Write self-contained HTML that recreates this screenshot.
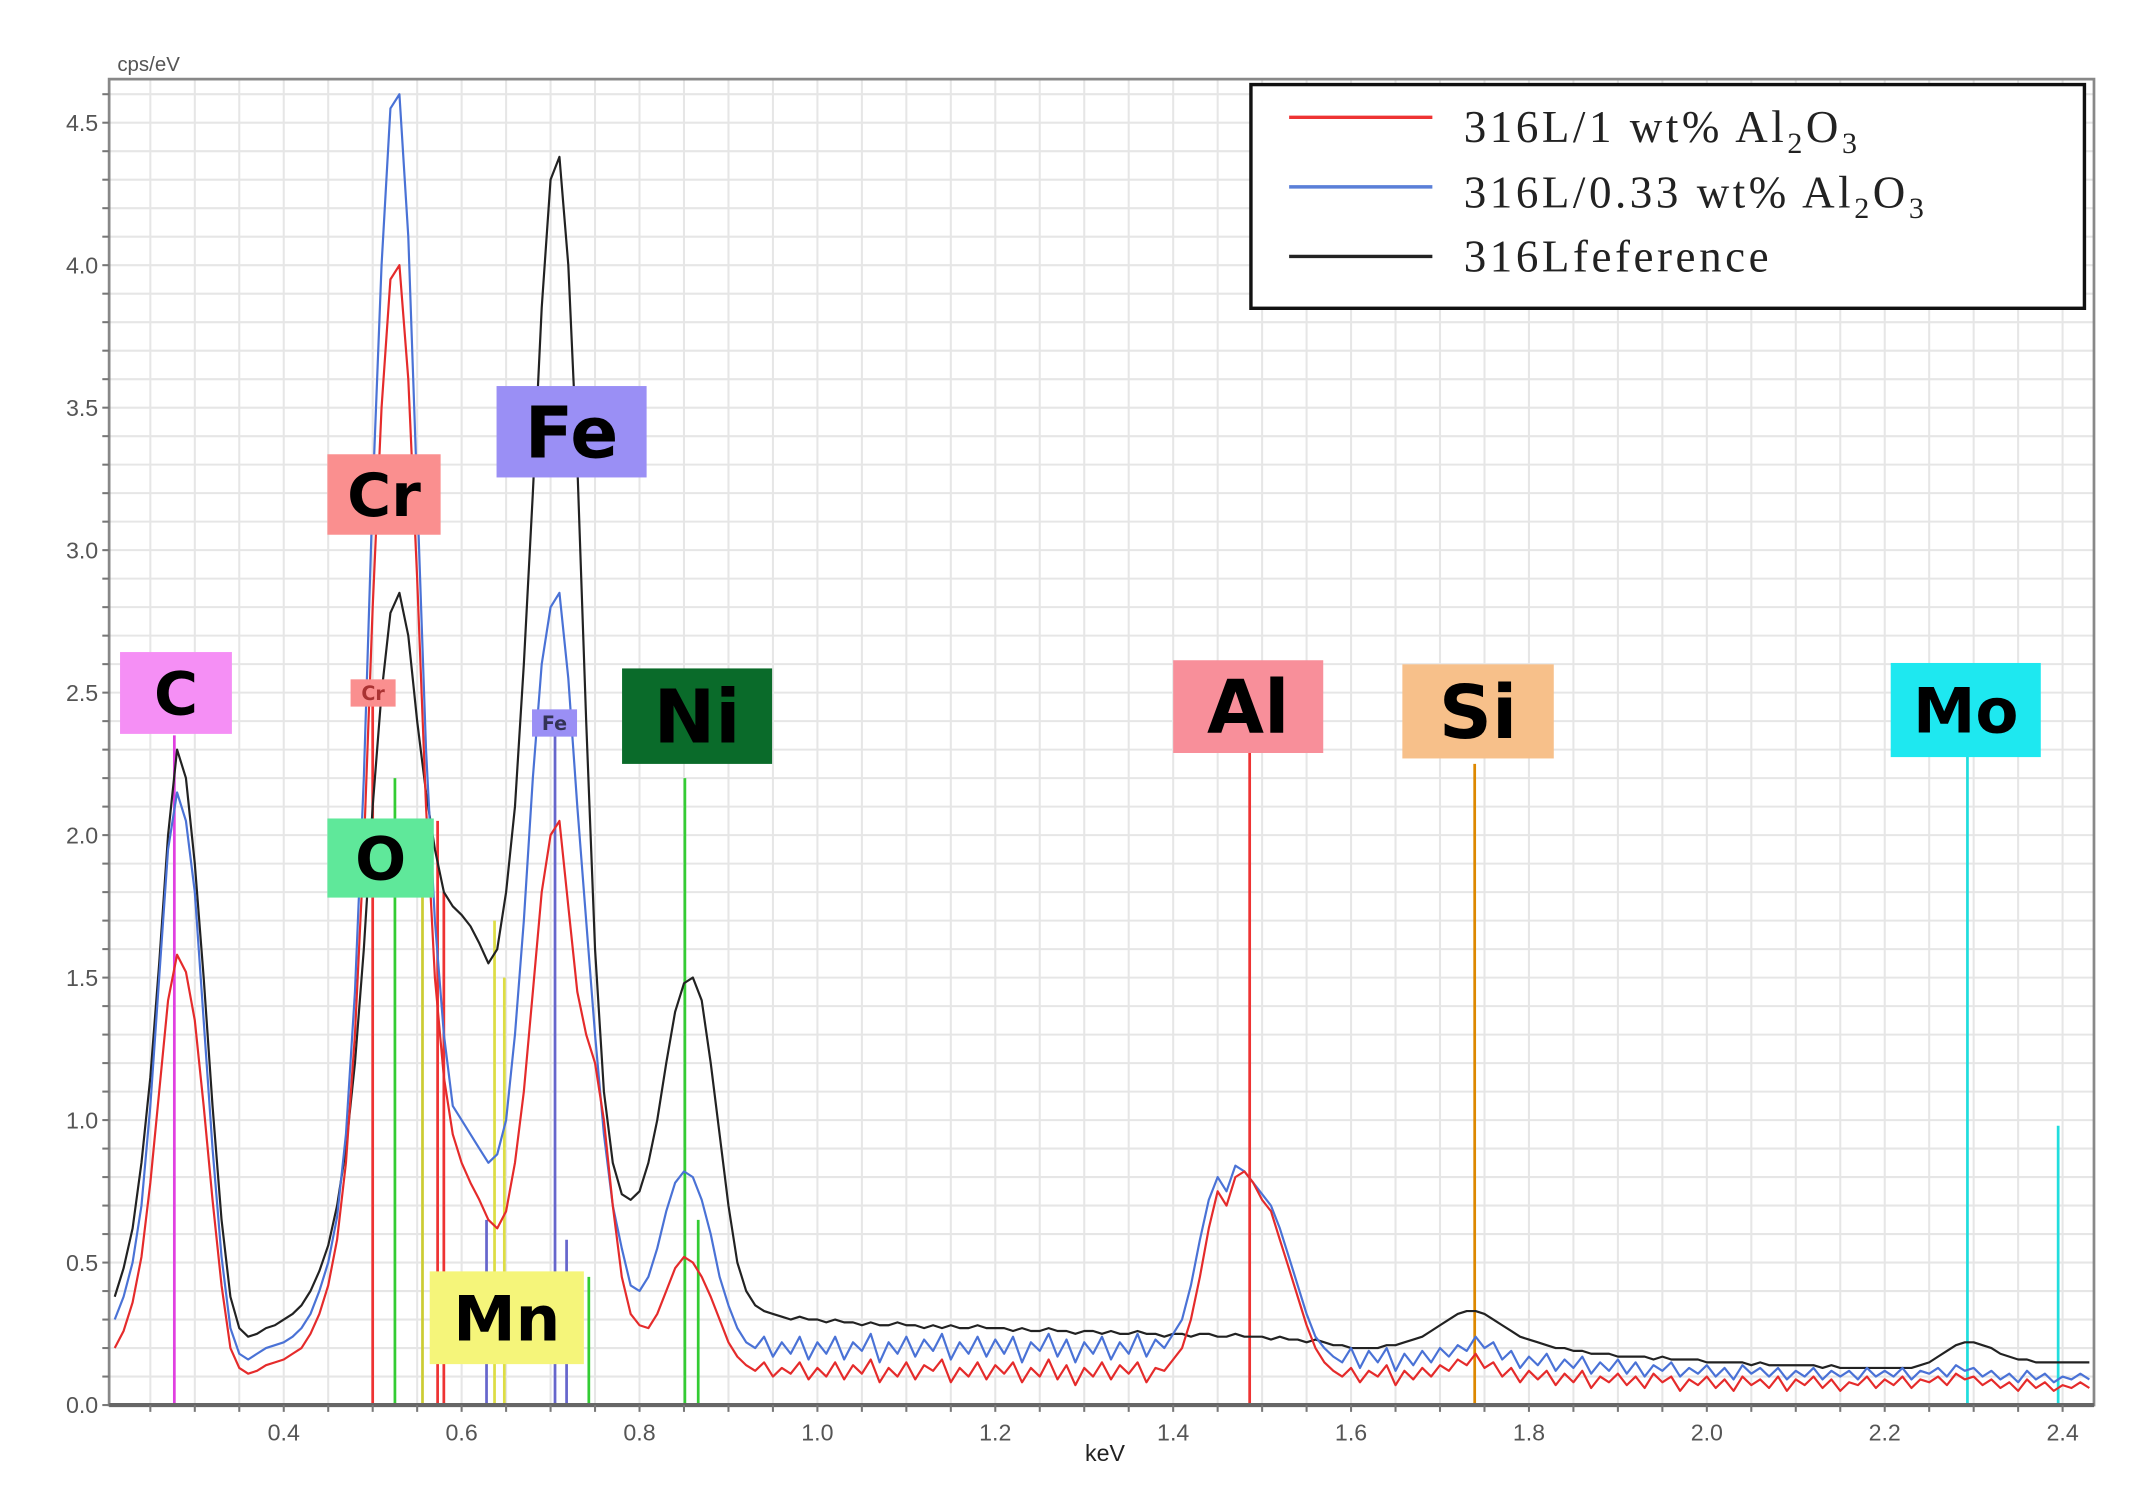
<!DOCTYPE html>
<html><head><meta charset="utf-8"><style>
html,body{margin:0;padding:0;background:#fff;}
svg{display:block;}
</style></head><body>
<svg id="chart" width="2139" height="1506" viewBox="0 0 1568 1104" preserveAspectRatio="none" xmlns="http://www.w3.org/2000/svg">
<rect x="0" y="0" width="1568" height="1104" fill="#fff"/>
<g id="grid"></g>
<g id="elines"></g>
<g id="series"></g>
<g id="axes"></g>
<g id="labels"></g>
<g>
<rect x="917" y="62" width="611" height="164" fill="#fff" stroke="#111" stroke-width="2.5"/>
<line x1="945" y1="86" x2="1050" y2="86" stroke="#e33" stroke-width="2.5"/>
<text x="1073" y="104" font-family="Liberation Serif, serif" font-size="33" letter-spacing="2.6" fill="#222">316L/1 wt% Al<tspan font-size="22" dy="8">2</tspan><tspan dy="-8">O</tspan><tspan font-size="22" dy="8">3</tspan></text>
<line x1="945" y1="137" x2="1050" y2="137" stroke="#5a7fd8" stroke-width="2.5"/>
<text x="1073" y="152" font-family="Liberation Serif, serif" font-size="33" letter-spacing="2.6" fill="#222">316L/0.33 wt% Al<tspan font-size="22" dy="8">2</tspan><tspan dy="-8">O</tspan><tspan font-size="22" dy="8">3</tspan></text>
<line x1="945" y1="188" x2="1050" y2="188" stroke="#222" stroke-width="2.5"/>
<text x="1073" y="199" font-family="Liberation Serif, serif" font-size="33" letter-spacing="2.6" fill="#222">316Lfeference</text>
</g>
</svg>
<script>
const energyStart = 0.21;
const energyStep = 0.01;
const reference = [
0.38,0.48,0.62,0.85,1.15,1.55,2.0,2.3,2.2,1.9,
1.5,1.05,0.65,0.38,0.27,0.24,0.25,0.27,0.28,0.30,
0.32,0.35,0.4,0.47,0.56,0.7,0.9,1.2,1.6,2.1,
2.5,2.78,2.85,2.7,2.4,2.15,1.95,1.8,1.75,1.72,
1.68,1.62,1.55,1.6,1.8,2.1,2.6,3.2,3.85,4.3,
4.38,4.0,3.3,2.4,1.6,1.1,0.85,0.74,0.72,0.75,
0.85,1.0,1.2,1.38,1.48,1.5,1.42,1.2,0.95,0.7,
0.5,0.4,0.35,0.33,0.32,0.31,0.30,0.31,0.30,0.30,
0.29,0.30,0.29,0.29,0.28,0.29,0.28,0.28,0.29,0.28,
0.28,0.27,0.28,0.27,0.28,0.27,0.27,0.28,0.27,0.27,
0.27,0.26,0.27,0.26,0.26,0.27,0.26,0.26,0.25,0.26,
0.26,0.25,0.26,0.25,0.25,0.26,0.25,0.25,0.24,0.25,
0.25,0.24,0.25,0.25,0.24,0.24,0.25,0.24,0.24,0.24,
0.23,0.24,0.23,0.23,0.22,0.23,0.22,0.21,0.21,0.20,
0.20,0.20,0.20,0.21,0.21,0.22,0.23,0.24,0.26,0.28,
0.30,0.32,0.33,0.33,0.32,0.30,0.28,0.26,0.24,0.23,
0.22,0.21,0.20,0.20,0.19,0.19,0.18,0.18,0.18,0.17,
0.17,0.17,0.17,0.16,0.17,0.16,0.16,0.16,0.16,0.15,
0.15,0.15,0.15,0.15,0.14,0.15,0.14,0.14,0.14,0.14,
0.14,0.14,0.13,0.14,0.13,0.13,0.13,0.13,0.13,0.13,
0.13,0.13,0.13,0.14,0.15,0.17,0.19,0.21,0.22,0.22,
0.21,0.2,0.18,0.17,0.16,0.16,0.15,0.15,0.15,0.15,
0.15,0.15,0.15];
const al2o3_033 = [
0.3,0.38,0.5,0.7,1.05,1.5,1.95,2.15,2.05,1.8,
1.35,0.9,0.52,0.27,0.18,0.16,0.18,0.2,0.21,0.22,
0.24,0.27,0.32,0.4,0.5,0.66,0.95,1.45,2.2,3.2,
4.0,4.55,4.6,4.1,3.2,2.3,1.7,1.3,1.05,1.0,
0.95,0.9,0.85,0.88,1.0,1.3,1.7,2.2,2.6,2.8,
2.85,2.55,2.1,1.7,1.3,0.95,0.7,0.55,0.42,0.4,
0.45,0.55,0.68,0.78,0.82,0.8,0.72,0.6,0.45,0.35,
0.27,0.22,0.2,0.24,0.17,0.22,0.18,0.24,0.16,0.22,
0.18,0.24,0.16,0.22,0.19,0.25,0.15,0.22,0.18,0.24,
0.17,0.23,0.19,0.25,0.16,0.22,0.18,0.24,0.17,0.23,
0.18,0.24,0.15,0.22,0.19,0.25,0.17,0.23,0.15,0.22,
0.18,0.24,0.16,0.22,0.18,0.25,0.17,0.23,0.2,0.25,
0.3,0.42,0.58,0.72,0.8,0.75,0.84,0.82,0.78,0.74,
0.7,0.62,0.52,0.42,0.32,0.24,0.2,0.17,0.15,0.2,
0.13,0.19,0.15,0.2,0.12,0.18,0.14,0.19,0.15,0.2,
0.17,0.21,0.19,0.24,0.2,0.22,0.16,0.19,0.13,0.17,
0.14,0.18,0.12,0.16,0.13,0.17,0.11,0.15,0.12,0.16,
0.11,0.15,0.1,0.14,0.12,0.15,0.1,0.13,0.11,0.14,
0.1,0.13,0.09,0.14,0.11,0.13,0.1,0.13,0.09,0.12,
0.1,0.13,0.09,0.12,0.1,0.12,0.09,0.13,0.1,0.12,
0.1,0.13,0.09,0.12,0.11,0.13,0.1,0.14,0.12,0.13,
0.1,0.12,0.09,0.11,0.08,0.12,0.09,0.11,0.08,0.1,
0.09,0.11,0.09];
const al2o3_1 = [
0.2,0.26,0.36,0.52,0.78,1.1,1.42,1.58,1.52,1.35,
1.05,0.72,0.42,0.2,0.13,0.11,0.12,0.14,0.15,0.16,
0.18,0.2,0.25,0.32,0.42,0.58,0.85,1.3,1.95,2.8,
3.5,3.95,4.0,3.6,2.9,2.1,1.5,1.15,0.95,0.85,
0.78,0.72,0.65,0.62,0.68,0.85,1.1,1.45,1.8,2.0,
2.05,1.75,1.45,1.3,1.2,1.0,0.7,0.45,0.32,0.28,
0.27,0.32,0.4,0.48,0.52,0.5,0.45,0.38,0.3,0.22,
0.17,0.14,0.12,0.15,0.1,0.13,0.11,0.15,0.09,0.13,
0.1,0.15,0.09,0.14,0.11,0.16,0.08,0.13,0.1,0.15,
0.09,0.14,0.12,0.16,0.08,0.13,0.1,0.15,0.09,0.14,
0.11,0.15,0.08,0.13,0.1,0.16,0.09,0.14,0.07,0.13,
0.1,0.15,0.09,0.14,0.11,0.15,0.08,0.13,0.12,0.16,
0.2,0.3,0.45,0.62,0.75,0.7,0.8,0.82,0.78,0.72,
0.68,0.58,0.48,0.38,0.28,0.2,0.15,0.12,0.1,0.13,
0.08,0.12,0.1,0.14,0.07,0.12,0.09,0.13,0.1,0.14,
0.12,0.16,0.14,0.18,0.13,0.15,0.1,0.13,0.08,0.12,
0.09,0.12,0.07,0.11,0.08,0.12,0.06,0.1,0.08,0.11,
0.07,0.1,0.06,0.11,0.08,0.1,0.05,0.09,0.07,0.1,
0.06,0.09,0.05,0.1,0.07,0.09,0.06,0.1,0.05,0.09,
0.07,0.1,0.06,0.09,0.05,0.08,0.07,0.1,0.06,0.09,
0.07,0.1,0.06,0.09,0.08,0.1,0.07,0.11,0.09,0.1,
0.07,0.09,0.06,0.08,0.05,0.09,0.06,0.08,0.05,0.07,
0.06,0.08,0.06];
const xTicks = [0.4,0.6,0.8,1.0,1.2,1.4,1.6,1.8,2.0,2.2,2.4];
const xTickLabels = ["0.4","0.6","0.8","1.0","1.2","1.4","1.6","1.8","2.0","2.2","2.4"];
const yTicks = [0,0.5,1,1.5,2,2.5,3,3.5,4,4.5];
const yTickLabels = ["0.0","0.5","1.0","1.5","2.0","2.5","3.0","3.5","4.0","4.5"];
const lineEnergies = [0.277,0.500,0.525,0.556,0.573,0.580,0.628,0.637,0.648,0.705,0.718,0.743,0.851,0.866,1.486,1.739,2.293,2.395];
const lineTops = [2.35,2.5,2.2,1.8,2.05,1.8,0.65,1.7,1.5,2.35,0.58,0.45,2.2,0.65,2.3,2.25,2.3,0.98];
const lineColors = ["#e040e0","#e33","#3c3","#cc3","#e33","#e33","#66c","#dd4","#dd4","#66c","#66c","#3c3","#3c3","#3c3","#e33","#d80","#2dd","#2dd"];

const NS="http://www.w3.org/2000/svg";
const X0=80,X1=1535,Y0=1030,YT=58;
const xMin=0.4-128/652, kx=652, ky=208.9;
function sx(v){return X0+(v-xMin)*kx;}
function sy(v){return Y0-v*ky;}
function mk(tag,parent,attrs){const e=document.createElementNS(NS,tag);for(const k in attrs)e.setAttribute(k,attrs[k]);parent.appendChild(e);return e;}
const grid=document.getElementById('grid');
for(let i=0;i<=46;i++){const v=i*0.1;const y=sy(v);if(y<YT)break;
 const l=mk('line',grid,{x1:X0,x2:X1,y1:y,y2:y,stroke:'#e6e6e6','stroke-width':1.5});
 
 }
for(let i=0;i<60;i++){const v=0.25+i*0.05;const x=sx(v);if(x>X1)break;if(x<X0)continue;
 const l=mk('line',grid,{x1:x,x2:x,y1:YT,y2:Y0,stroke:'#e6e6e6','stroke-width':1.5});
 
 }
const el=document.getElementById('elines');
lineEnergies.forEach((e,i)=>{const l=mk('line',el,{x1:sx(e),x2:sx(e),y1:sy(lineTops[i]),y2:Y0,stroke:lineColors[i],'stroke-width':2});
 
 });
const sg=document.getElementById('series');
function draw(arr,color,name){let d='';arr.forEach((v,i)=>{const e=energyStart+i*energyStep;d+=(i?'L':'M')+sx(e).toFixed(1)+','+sy(v).toFixed(1);});
 const p=mk('path',sg,{d:d,fill:'none',stroke:color,'stroke-width':1.6,'stroke-linejoin':'round'});
 
 }
draw(reference,'#222','series-reference');
draw(al2o3_033,'#4a72d6','series-033wt');
draw(al2o3_1,'#e52b2b','series-1wt');
const ax=document.getElementById('axes');
mk('rect',ax,{x:X0,y:YT,width:X1-X0,height:Y0-YT,fill:'none',stroke:'#888','stroke-width':2});
mk('line',ax,{x1:X0,x2:X1,y1:Y0,y2:Y0,stroke:'#666','stroke-width':3});
for(let i=0;i<=46;i++){const y=sy(i*0.1);if(y<YT)break;mk('line',ax,{x1:X0-5,x2:X0,y1:y,y2:y,stroke:'#777','stroke-width':1.5});}
for(let i=0;i<60;i++){const x=sx(0.25+i*0.05);if(x>X1)break;if(x<X0)continue;mk('line',ax,{x1:x,x2:x,y1:Y0,y2:Y0+5,stroke:'#777','stroke-width':1.5});}
yTicks.forEach((v,i)=>{const t=mk('text',ax,{x:X0-8,y:sy(v)+6,'text-anchor':'end','font-family':'Liberation Sans, sans-serif','font-size':17,fill:'#555'});t.textContent=yTickLabels[i];
 
 });
xTicks.forEach((v,i)=>{const t=mk('text',ax,{x:sx(v),y:Y0+26,'text-anchor':'middle','font-family':'Liberation Sans, sans-serif','font-size':17,fill:'#555'});t.textContent=xTickLabels[i];
 
 });
const xt=mk('text',ax,{x:810,y:1071,'text-anchor':'middle','font-family':'Liberation Sans, sans-serif','font-size':17,fill:'#222'});xt.textContent='keV';


const yt=mk('text',ax,{x:86,y:52,'font-family':'Liberation Sans, sans-serif','font-size':15,fill:'#555'});yt.textContent='cps/eV';


const lab=document.getElementById('labels');
const boxes=[
 ['C',88,478,82,60,'#f58ff5','#000',44],
 ['Cr',240,333,83,59,'#fa8f8f','#000',44],
 ['Fe',364,283,110,67,'#9a8ff5','#000',52],
 ['O',240,600,78,58,'#5fe89a','#000',44],
 ['Ni',456,490,110,70,'#0a6b2a','#000',54],
 ['Mn',315,932,113,68,'#f5f57a','#000',46],
 ['Al',860,484,110,68,'#f88f9a','#000',54],
 ['Si',1028,487,111,69,'#f7c08a','#000',54],
 ['Mo',1386,486,110,69,'#1ee8f0','#000',46],
 ['Cr',257,498,33,20,'#fa8f8f','#a33',14],
 ['Fe',390,520,33,20,'#9a8ff5','#335',14]];
boxes.forEach(b=>{const g=mk('g',lab,{});
 
 
 mk('rect',g,{x:b[1],y:b[2],width:b[3],height:b[4],fill:b[5]});
 const t=mk('text',g,{x:b[1]+b[3]/2,y:b[2]+b[4]/2+b[7]*0.36,'text-anchor':'middle','font-family':'DejaVu Sans, Liberation Sans, sans-serif','font-weight':'bold','font-size':b[7],fill:b[6]});t.textContent=b[0];});
</script>
</body></html>
